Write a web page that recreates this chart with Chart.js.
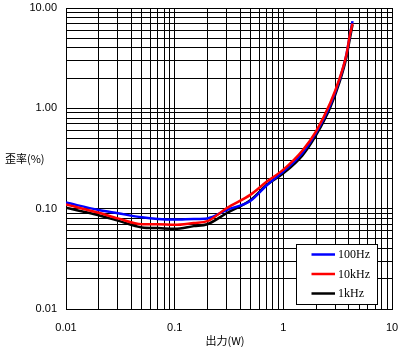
<!DOCTYPE html>
<html><head><meta charset="utf-8">
<script src="https://cdn.jsdelivr.net/npm/chart.js@4/dist/chart.umd.min.js"></script>
<style>html,body{margin:0;padding:0;background:#fff}canvas{display:block}</style>
</head><body>
<canvas id="c" width="402" height="347"></canvas>
<script>
const seriesNames = ['100Hz', '10kHz', '1kHz'];
const seriesColors = ['#0000ff', '#ff0000', '#000000'];
const outputW  = [0.01, 0.02, 0.03, 0.05, 0.07, 0.1, 0.15, 0.2, 0.3, 0.5, 0.7, 1, 1.5, 2, 2.7, 3.3, 3.8, 4.1, 4.33];
const thd100Hz = [0.115, 0.097, 0.090, 0.082, 0.079, 0.078, 0.079, 0.080, 0.097, 0.120, 0.170, 0.235, 0.36, 0.57, 1.08, 1.95, 3.4, 5.4, 7.4];
const thd10kHz = [0.110, 0.091, 0.080, 0.070, 0.070, 0.069, 0.072, 0.075, 0.101, 0.138, 0.185, 0.245, 0.38, 0.59, 1.13, 2.0, 3.4, 5.4, 7.0];
const thd1kHz  = [0.102, 0.086, 0.076, 0.065, 0.064, 0.063, 0.067, 0.070, 0.090, 0.122, 0.172, 0.225, 0.34, 0.54, 1.02, 1.85, 3.2, 5.0, 6.8];
const decadeValues = [0.01, 0.1, 1, 10];
const xTickLabels = ['0.01', '0.1', '1', '10'];
const yTickLabels = ['0.01', '0.10', '1.00', '10.00'];
const gridMultipliers = [1, 2, 3, 4, 5, 6, 7, 8, 9];
const xTitle = '出力(W)';
const yTitle = '歪率(%)';

const gridValues = [];
decadeValues.forEach((d, i) => {
  if (i === decadeValues.length - 1) { gridValues.push(d); return; }
  gridMultipliers.forEach(m => gridValues.push(+(d * m).toPrecision(6)));
});
function decadeIndex(v) {
  return decadeValues.findIndex(d => Math.abs(Math.log10(v) - Math.log10(d)) < 1e-6);
}
const seriesData = [thd100Hz, thd10kHz, thd1kHz];
const drawOrder = [2, 1, 3];

const tickFont = {family: "'Liberation Sans', Arial, sans-serif", size: 11};
function noPad(scale) {
  scale.paddingTop = 0; scale.paddingBottom = 0;
  scale.paddingLeft = 0; scale.paddingRight = 0;
}

const overlay = {
  id: 'overlay',
  afterDraw(chart) {
    const ctx = chart.ctx;
    const ca = chart.chartArea;
    ctx.save();
    ctx.fillStyle = '#000';
    ctx.font = "11px 'Noto Sans CJK JP', sans-serif";
    ctx.textAlign = 'left';
    ctx.textBaseline = 'middle';
    ctx.fillText(yTitle, 5, (ca.top + ca.bottom) / 2);
    ctx.textAlign = 'center';
    ctx.fillText(xTitle, (ca.left + ca.right) / 2 - 4, 341);
    const bx = 296.5, by = 244.5, bw = 81, bh = 60;
    ctx.fillStyle = '#fff';
    ctx.fillRect(bx, by, bw, bh);
    ctx.strokeStyle = '#000';
    ctx.lineWidth = 1;
    ctx.strokeRect(bx, by, bw, bh);
    ctx.font = "12px 'Liberation Serif', 'Times New Roman', serif";
    ctx.textAlign = 'left';
    seriesNames.forEach((name, i) => {
      const y = 254.5 + i * 19.5;
      ctx.strokeStyle = seriesColors[i];
      ctx.lineWidth = 2.5;
      ctx.beginPath();
      ctx.moveTo(311.5, y);
      ctx.lineTo(335, y);
      ctx.stroke();
      ctx.fillStyle = '#000';
      ctx.fillText(name, 338, y + 0.5);
    });
    ctx.restore();
  }
};

new Chart(document.getElementById('c'), {
  type: 'line',
  data: {
    datasets: seriesNames.map((name, i) => ({
      label: name,
      data: outputW.map((x, j) => ({x: x, y: seriesData[i][j]})),
      borderColor: seriesColors[i],
      backgroundColor: seriesColors[i],
      borderWidth: 2.5,
      pointRadius: 0,
      cubicInterpolationMode: 'monotone',
      fill: false,
      order: drawOrder[i]
    }))
  },
  options: {
    responsive: false,
    devicePixelRatio: 1,
    animation: false,
    layout: {padding: {top: 8, right: 10, left: 0, bottom: 0}},
    plugins: {legend: {display: false}, tooltip: {enabled: false}},
    scales: {
      x: {
        type: 'logarithmic',
        min: 0.01, max: 10,
        afterBuildTicks(scale) { scale.ticks = gridValues.map(v => ({value: v})); },
        afterFit(scale) { scale.height = 38; noPad(scale); },
        grid: {color: '#000', lineWidth: 1, drawTicks: false},
        border: {color: '#000', width: 1},
        ticks: {
          autoSkip: false, maxRotation: 0, padding: 12,
          color: '#000', font: tickFont,
          callback(v) { const k = decadeIndex(v); return k >= 0 ? xTickLabels[k] : ''; }
        }
      },
      y: {
        type: 'logarithmic',
        min: 0.01, max: 10,
        afterBuildTicks(scale) { scale.ticks = gridValues.map(v => ({value: v})); },
        afterFit(scale) { scale.width = 66; noPad(scale); },
        grid: {color: '#000', lineWidth: 1, drawTicks: false},
        border: {color: '#000', width: 1},
        ticks: {
          autoSkip: false, padding: 9,
          color: '#000', font: tickFont,
          callback(v) { const k = decadeIndex(v); return k >= 0 ? yTickLabels[k] : ''; }
        }
      }
    }
  },
  plugins: [overlay]
});
</script>
</body></html>
